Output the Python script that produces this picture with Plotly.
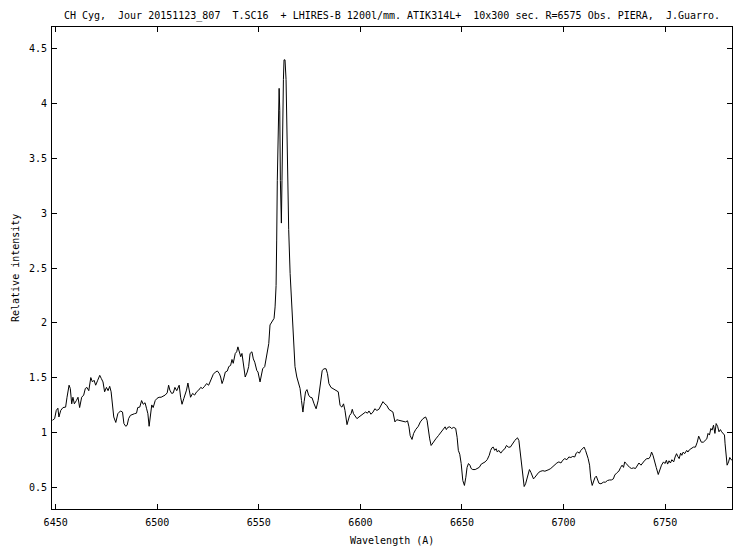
import plotly.graph_objects as go

wavelength = [
    6448.4, 6449.5, 6450.3, 6451.1, 6451.6, 6452.5, 6453.6, 6454.9, 6455.6, 6456.6,
    6457.2, 6457.9, 6458.5, 6459.2, 6460.2, 6461.0, 6461.8, 6462.8, 6463.8, 6464.6,
    6465.4, 6466.3, 6467.3, 6468.1, 6468.9, 6469.7, 6470.7, 6471.7, 6472.5, 6473.3,
    6474.1, 6475.0, 6475.8, 6476.6, 6477.3, 6477.9, 6478.6, 6479.6, 6480.6, 6481.9,
    6482.9, 6483.6, 6484.5, 6485.2, 6485.9, 6486.8, 6487.8, 6488.8, 6489.8, 6490.4,
    6491.4, 6492.3, 6493.1, 6494.0, 6494.7, 6495.4, 6496.0, 6496.7, 6497.3, 6498.0,
    6499.0, 6499.9, 6500.9, 6501.9, 6502.9, 6503.9, 6504.9, 6505.6, 6506.2, 6507.1,
    6507.9, 6508.7, 6509.6, 6510.8, 6511.5, 6512.2, 6513.1, 6514.4, 6515.1, 6515.7,
    6516.4, 6517.4, 6518.4, 6519.4, 6520.4, 6521.4, 6522.3, 6523.3, 6524.3, 6525.3,
    6526.3, 6526.9, 6527.6, 6528.6, 6529.6, 6530.6, 6531.2, 6531.9, 6532.5, 6533.5,
    6534.5, 6535.2, 6536.1, 6536.8, 6537.4, 6538.4, 6539.1, 6539.7, 6540.4, 6541.1,
    6541.7, 6542.4, 6543.3, 6544.3, 6545.0, 6545.7, 6546.6, 6547.3, 6548.0, 6549.0,
    6549.6, 6550.6, 6551.2, 6551.9, 6552.9, 6553.9, 6554.9, 6555.5, 6556.5, 6557.5,
    6558.0, 6558.5, 6558.8, 6559.1, 6560.0, 6560.3, 6560.6, 6561.1, 6561.4, 6561.8,
    6562.1, 6562.4, 6562.9, 6563.4, 6563.9, 6564.7, 6565.4, 6566.2, 6567.0, 6567.8,
    6568.7, 6569.6, 6570.3, 6571.0, 6571.7, 6572.3, 6573.0, 6573.7, 6574.5, 6575.3,
    6576.2, 6577.2, 6578.2, 6579.2, 6580.2, 6581.2, 6582.1, 6583.1, 6583.8, 6584.5,
    6585.5, 6586.4, 6587.7, 6589.1, 6590.0, 6590.9, 6591.7, 6592.4, 6593.4, 6594.0,
    6594.7, 6595.4, 6596.0, 6596.6, 6597.3, 6598.3, 6599.3, 6600.2, 6601.5, 6602.5,
    6603.5, 6604.2, 6605.2, 6606.2, 6607.1, 6608.1, 6609.1, 6610.1, 6611.1, 6612.0,
    6613.0, 6614.0, 6615.0, 6616.0, 6617.0, 6617.9, 6618.9, 6620.2, 6621.2, 6622.2,
    6623.2, 6623.9, 6624.5, 6625.4, 6626.2, 6627.2, 6628.5, 6629.5, 6630.8, 6632.1,
    6632.8, 6633.4, 6634.1, 6634.8, 6635.8, 6637.1, 6638.4, 6639.7, 6641.0, 6641.7,
    6642.3, 6643.0, 6644.0, 6644.9, 6645.9, 6646.9, 6647.6, 6648.2, 6648.9, 6649.6,
    6650.4, 6651.2, 6651.9, 6652.5, 6653.2, 6653.9, 6654.5, 6655.3, 6656.5, 6657.5,
    6658.5, 6659.5, 6660.5, 6661.4, 6662.4, 6663.4, 6664.1, 6664.8, 6665.4, 6666.1,
    6666.8, 6667.4, 6668.1, 6669.1, 6670.1, 6671.1, 6671.9, 6672.8, 6673.8, 6674.7,
    6675.4, 6676.0, 6676.7, 6677.3, 6678.0, 6678.6, 6679.3, 6679.9, 6680.6, 6681.3,
    6681.9, 6682.6, 6683.2, 6683.9, 6684.6, 6685.2, 6685.9, 6686.8, 6687.8, 6688.8,
    6689.8, 6690.8, 6691.8, 6692.8, 6693.7, 6694.7, 6695.7, 6696.7, 6697.7, 6698.7,
    6699.6, 6700.6, 6701.6, 6702.6, 6703.6, 6704.5, 6705.5, 6706.2, 6706.9, 6707.8,
    6708.5, 6709.5, 6710.1, 6710.8, 6711.4, 6712.1, 6712.8, 6713.4, 6714.1, 6714.7,
    6715.4, 6716.1, 6716.7, 6717.4, 6718.4, 6719.6, 6720.6, 6721.6, 6722.6, 6723.5,
    6724.5, 6725.2, 6726.2, 6727.2, 6728.1, 6728.8, 6729.5, 6730.1, 6730.8, 6731.5,
    6732.5, 6733.4, 6734.4, 6735.4, 6736.4, 6737.1, 6738.1, 6739.1, 6740.0, 6741.0,
    6742.0, 6742.7, 6743.3, 6744.0, 6744.7, 6745.6, 6746.6, 6747.3, 6748.2, 6749.2,
    6749.9, 6750.6, 6751.2, 6751.9, 6752.6, 6753.3, 6754.2, 6754.9, 6755.6, 6756.2,
    6756.9, 6757.6, 6758.2, 6758.9, 6759.6, 6760.6, 6761.2, 6761.9, 6762.9, 6763.9,
    6764.9, 6765.8, 6766.5, 6767.2, 6767.8, 6768.8, 6769.8, 6770.5, 6771.1, 6771.8,
    6772.5, 6773.1, 6773.8, 6774.5, 6775.1, 6775.8, 6776.5, 6777.2, 6777.8, 6778.5,
    6779.2, 6779.5, 6779.9, 6780.5, 6781.2, 6781.8, 6782.5, 6783.2,
]

intensity = [
    1.11, 1.125, 1.20, 1.22, 1.14, 1.20, 1.226, 1.23, 1.32, 1.43,
    1.40, 1.26, 1.32, 1.26, 1.29, 1.32, 1.226, 1.32, 1.34, 1.40,
    1.41, 1.38, 1.50, 1.46, 1.475, 1.43, 1.475, 1.52, 1.49, 1.46,
    1.37, 1.41, 1.38, 1.42, 1.37, 1.23, 1.14, 1.09, 1.17, 1.195,
    1.185, 1.08, 1.055, 1.065, 1.125, 1.155, 1.165, 1.17, 1.175, 1.226,
    1.23, 1.29, 1.256, 1.27, 1.22, 1.17, 1.055, 1.185, 1.25, 1.226,
    1.29, 1.31, 1.32, 1.32, 1.33, 1.34, 1.36, 1.43, 1.385, 1.355,
    1.36, 1.41, 1.38, 1.43, 1.32, 1.256, 1.31, 1.385, 1.45, 1.385,
    1.32, 1.355, 1.34, 1.37, 1.385, 1.41, 1.40, 1.42, 1.445, 1.43,
    1.47, 1.505, 1.53, 1.55, 1.56, 1.535, 1.505, 1.445, 1.475, 1.55,
    1.56, 1.60, 1.61, 1.665, 1.63, 1.72, 1.735, 1.78, 1.735, 1.69,
    1.72, 1.60, 1.505, 1.55, 1.60, 1.72, 1.735, 1.67, 1.64, 1.565,
    1.55, 1.46, 1.505, 1.58, 1.60, 1.69, 1.81, 1.98, 2.01, 2.04,
    2.145, 2.34, 2.755, 3.30, 4.14, 3.94, 3.30, 2.91, 3.30, 4.03,
    4.22, 4.40, 4.40, 4.22, 3.67, 2.85, 2.45, 2.145, 1.90, 1.60,
    1.505, 1.445, 1.40, 1.29, 1.185, 1.28, 1.37, 1.39, 1.34, 1.32,
    1.315, 1.26, 1.215, 1.29, 1.41, 1.565, 1.58, 1.58, 1.535, 1.445,
    1.41, 1.40, 1.385, 1.37, 1.245, 1.23, 1.26, 1.20, 1.07, 1.11,
    1.155, 1.17, 1.21, 1.17, 1.155, 1.125, 1.14, 1.155, 1.17, 1.185,
    1.175, 1.195, 1.165, 1.185, 1.215, 1.20, 1.21, 1.245, 1.28, 1.26,
    1.245, 1.21, 1.20, 1.185, 1.095, 1.115, 1.11, 1.105, 1.105, 1.095,
    1.105, 1.05, 0.97, 0.935, 0.99, 1.025, 1.055, 1.095, 1.125, 1.14,
    1.11, 1.02, 0.94, 0.88, 0.91, 0.94, 0.97, 1.00, 1.035, 1.05,
    1.025, 1.045, 1.05, 1.035, 1.045, 1.035, 0.955, 0.835, 0.80, 0.715,
    0.56, 0.515, 0.59, 0.68, 0.715, 0.70, 0.67, 0.66, 0.66, 0.67,
    0.68, 0.71, 0.72, 0.73, 0.75, 0.79, 0.835, 0.86, 0.865, 0.835,
    0.85, 0.82, 0.835, 0.81, 0.835, 0.85, 0.88, 0.865, 0.865, 0.895,
    0.91, 0.925, 0.94, 0.95, 0.925, 0.835, 0.73, 0.59, 0.505, 0.53,
    0.575, 0.62, 0.66, 0.635, 0.60, 0.575, 0.59, 0.615, 0.635, 0.645,
    0.65, 0.645, 0.65, 0.66, 0.67, 0.69, 0.70, 0.72, 0.73, 0.72,
    0.745, 0.76, 0.75, 0.775, 0.77, 0.78, 0.775, 0.81, 0.82, 0.81,
    0.835, 0.85, 0.865, 0.835, 0.805, 0.76, 0.70, 0.575, 0.515, 0.545,
    0.585, 0.60, 0.56, 0.535, 0.53, 0.545, 0.545, 0.56, 0.565, 0.565,
    0.575, 0.61, 0.63, 0.645, 0.68, 0.70, 0.68, 0.73, 0.715, 0.70,
    0.68, 0.67, 0.675, 0.67, 0.70, 0.72, 0.70, 0.73, 0.745, 0.76,
    0.76, 0.78, 0.82, 0.79, 0.75, 0.68, 0.615, 0.65, 0.70, 0.73,
    0.715, 0.745, 0.71, 0.74, 0.72, 0.75, 0.73, 0.775, 0.805, 0.78,
    0.76, 0.81, 0.79, 0.82, 0.805, 0.835, 0.82, 0.84, 0.85, 0.865,
    0.865, 0.91, 0.965, 0.94, 0.91, 0.91, 0.925, 0.94, 0.99, 0.975,
    1.035, 1.02, 1.065, 0.99, 1.08, 1.055, 1.005, 1.025, 1.005, 0.99,
    0.975, 0.895, 0.79, 0.70, 0.73, 0.77, 0.75, 0.745,
]

x_ticks = [6450, 6500, 6550, 6600, 6650, 6700, 6750]
y_ticks = [0.5, 1, 1.5, 2, 2.5, 3, 3.5, 4, 4.5]
y_tick_labels = ["0.5", "1", "1.5", "2", "2.5", "3", "3.5", "4", "4.5"]

NB = "\u00a0"
title_text = ("CH Cyg," + NB * 2 + "Jour 20151123_807" + NB * 2 + "T.SC16" + NB * 2 +
              "+ LHIRES-B 1200l/mm. ATIK314L+" + NB * 2 +
              "10x300 sec. R=6575 Obs. PIERA," + NB * 2 + "J.Guarro.")

FONT = "DejaVu Sans Mono"
# page body has an 8px default margin, so the figure is 742x542
W, H = 742, 542

fig = go.Figure()
fig.add_trace(go.Scatter(
    x=wavelength, y=intensity, mode="lines",
    line=dict(color="black", width=1),
    showlegend=False, hoverinfo="skip",
))

axis_common = dict(
    showgrid=False, zeroline=False,
    showline=True, linecolor="black", linewidth=1, mirror="ticks",
    ticks="inside", ticklen=5, tickwidth=1, tickcolor="black",
    tickfont=dict(family=FONT, size=10, color="black"),
)

fig.update_xaxes(range=[6448.2, 6782.9], tickvals=x_ticks,
                 ticktext=[str(v) for v in x_ticks], ticklabelstandoff=4,
                 **axis_common)
fig.update_yaxes(range=[0.3, 4.7], tickvals=y_ticks, ticktext=y_tick_labels,
                 ticklabelstandoff=2, **axis_common)

fig.update_layout(
    width=W, height=H,
    margin=dict(l=44, r=18, t=19, b=41, pad=0),
    paper_bgcolor="white", plot_bgcolor="white",
    font=dict(family=FONT, size=10, color="black"),
    title=dict(text=title_text, x=0.5, xref="paper", xanchor="center",
               y=1 - 7 / H, yref="container", yanchor="middle",
               font=dict(family=FONT, size=10, color="black")),
    annotations=[
        dict(text="Wavelength (A)", x=0.5, y=0, xref="paper", yref="paper",
             xanchor="center", yanchor="middle", yshift=-31, showarrow=False,
             font=dict(family=FONT, size=10, color="black")),
        dict(text="Relative intensity", x=0, y=0.5, xref="paper", yref="paper",
             xanchor="center", yanchor="middle", xshift=-37, textangle=-90,
             showarrow=False, font=dict(family=FONT, size=10, color="black")),
    ],
)

fig.write_html("out.html")
